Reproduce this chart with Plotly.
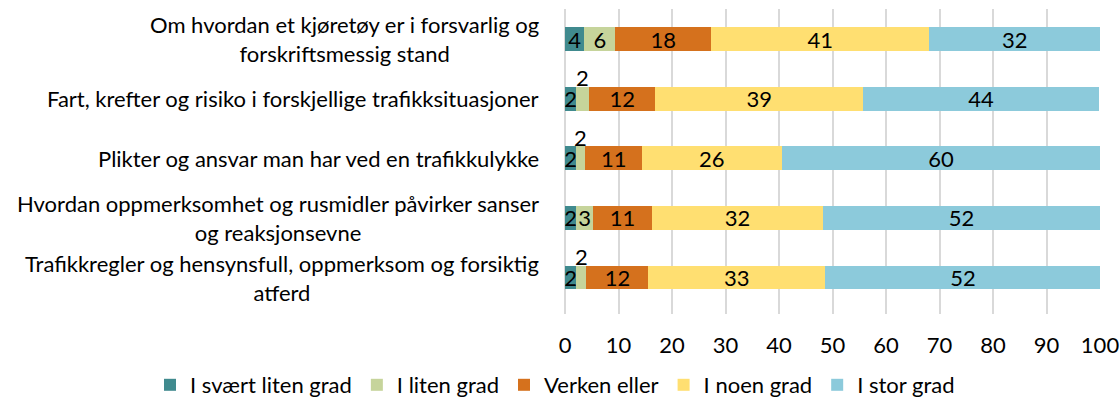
import plotly.graph_objects as go

categories = [
    "Om hvordan et kjøretøy er i forsvarlig og<br>forskriftsmessig stand",
    "Fart, krefter og risiko i forskjellige trafikksituasjoner",
    "Plikter og ansvar man har ved en trafikkulykke",
    "Hvordan oppmerksomhet og rusmidler påvirker sanser<br>og reaksjonsevne",
    "Trafikkregler og hensynsfull, oppmerksom og forsiktig<br>atferd",
]
series_names = ["I svært liten grad", "I liten grad", "Verken eller", "I noen grad", "I stor grad"]
svært_liten = [3.6, 2.1, 2.1, 2.1, 2.1]
liten = [5.8, 2.4, 1.7, 3.1, 1.9]
verken = [17.9, 12.4, 10.6, 11.1, 11.6]
noen = [40.8, 38.8, 26.1, 31.9, 33.0]
stor = [31.9, 44.2, 59.6, 51.8, 51.6]
series_values = [svært_liten, liten, verken, noen, stor]
colors = ["#408A8E", "#C6D49B", "#D5711D", "#FFDF71", "#8CCADB"]
# green labels that are placed above the bar (too narrow segment)
outside_green = [False, True, True, False, True]
x_ticks = list(range(0, 101, 10))

FONT = "Lato"
FS = 22

fig = go.Figure()
for si, (name, vals, col) in enumerate(zip(series_names, series_values, colors)):
    if si == 1:
        texts = ["" if o else f"{v:.0f}" for v, o in zip(vals, outside_green)]
    else:
        texts = [f"{v:.0f}" for v in vals]
    fig.add_trace(go.Bar(
        y=categories, x=vals, name=name, orientation="h",
        marker=dict(color=col, line=dict(width=0)),
        text=texts, textposition="inside", insidetextanchor="middle",
        textangle=0, constraintext="none",
        textfont=dict(family=FONT, size=FS, color="#000000"),
    ))

annotations = []
for i, cat in enumerate(categories):
    annotations.append(dict(
        x=0, y=cat, xref="x", yref="y", text=cat, showarrow=False,
        xanchor="right", yanchor="middle", align="center", xshift=-24,
        font=dict(family=FONT, size=FS, color="#000000"),
    ))
    if outside_green[i]:
        cx = svært_liten[i] + liten[i] / 2
        annotations.append(dict(
            x=cx, y=cat, xref="x", yref="y", text=f"{liten[i]:.0f}",
            showarrow=False, xanchor="center", yanchor="middle", yshift=21,
            font=dict(family=FONT, size=FS, color="#000000"),
        ))

fig.update_layout(
    barmode="stack",
    bargap=0.6,
    width=1120, height=410,
    margin=dict(l=565, r=20, t=9, b=96, autoexpand=False),
    paper_bgcolor="white", plot_bgcolor="white",
    font=dict(family=FONT, size=FS, color="#000000"),
    xaxis=dict(range=[0, 100], tickvals=x_ticks, showgrid=True,
               gridcolor="#D9D9D9", gridwidth=2, zeroline=True,
               zerolinecolor="#D9D9D9", zerolinewidth=2, showline=False,
               ticks="", ticklabelstandoff=16,
               tickfont=dict(family=FONT, size=FS, color="#000000")),
    yaxis=dict(autorange="reversed", showticklabels=False, showgrid=False,
               zeroline=False, showline=False, ticks=""),
    legend=dict(orientation="h", xref="paper", yref="paper",
                x=(150 - 565) / 535, xanchor="left",
                y=(314 - 385) / 305, yanchor="middle",
                font=dict(family=FONT, size=FS, color="#000000"),
                itemwidth=30, traceorder="normal"),
    annotations=annotations,
    showlegend=True,
)

fig.write_html("out.html", config={"displayModeBar": False},
               post_script="document.body.style.margin='0px';")
